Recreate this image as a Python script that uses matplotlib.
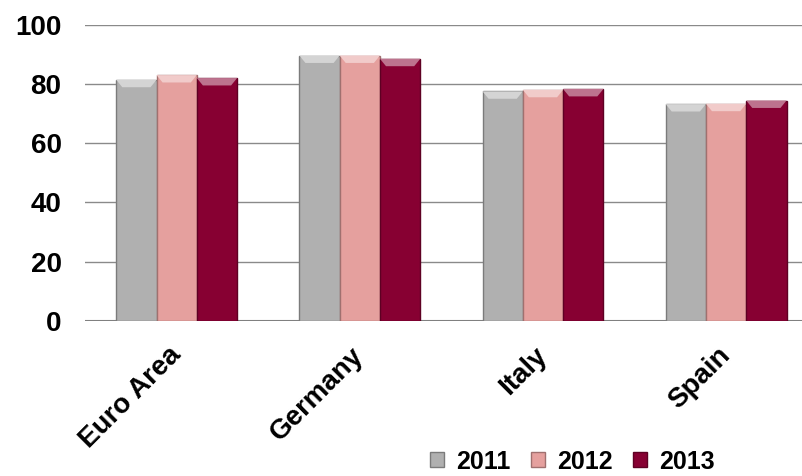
import matplotlib.pyplot as plt
import matplotlib.colors as mcolors
from matplotlib.patches import Polygon
import numpy as np

plt.rcParams['font.family'] = ['Liberation Sans', 'DejaVu Sans']

# countries and yearly values
countries = ['Euro Area', 'Germany', 'Italy', 'Spain']
years = ['2011', '2012', '2013']
vals_2011 = [81.4, 89.6, 77.5, 73.2]
vals_2012 = [83.0, 89.6, 78.0, 73.3]
vals_2013 = [82.0, 88.5, 78.3, 74.4]
colours = ['#b0b0b0', '#e5a09e', '#870032']

series = [vals_2011, vals_2012, vals_2013]

fig = plt.figure(figsize=(8.03, 4.76), dpi=100)
ax = fig.add_axes([0.106, 0.326, 0.894, 0.622])

x = np.arange(len(countries))
w = 0.22


def lighter(c, amt):
    r, g, b = mcolors.to_rgb(c)
    return (r + (1 - r) * amt, g + (1 - g) * amt, b + (1 - b) * amt)


def darker(c, amt):
    r, g, b = mcolors.to_rgb(c)
    return (r * (1 - amt), g * (1 - amt), b * (1 - amt))


for i in range(3):
    bars = ax.bar(x + (i - 1) * w, series[i], width=w, color=colours[i],
                  edgecolor=darker(colours[i], 0.3), linewidth=1.0,
                  label=years[i], zorder=3)
    # bevel on the top of each bar
    for b in bars:
        x0 = b.get_x()
        x1 = x0 + b.get_width()
        top = b.get_height()
        d = b.get_width() * 0.15
        h = 2.5
        poly = Polygon([(x0, top), (x1, top), (x1 - d, top - h), (x0 + d, top - h)],
                       closed=True, facecolor=lighter(colours[i], 0.45),
                       edgecolor='none', zorder=4)
        ax.add_patch(poly)

ax.set_ylim(0, 100)
ax.set_xlim(-0.5, 3.42)
ax.set_yticks([0, 20, 40, 60, 80, 100])
ax.yaxis.grid(True, color='#8a8a8a', linewidth=1.0, zorder=0)
ax.axhline(0, color='#808080', linewidth=1.5, zorder=2)
for s in ax.spines.values():
    s.set_visible(False)
ax.tick_params(axis='y', length=0, pad=17, labelsize=20)
ax.tick_params(axis='x', length=0, pad=22, labelsize=20)
for t in ax.get_yticklabels():
    t.set_fontweight('bold')
ax.set_xticks(x)
ax.set_xticklabels(countries, rotation=45, ha='right', va='center',
                   rotation_mode='anchor', fontweight='bold')

leg = fig.legend(loc='center right', bbox_to_anchor=(0.918, 0.03), ncol=3,
                 frameon=False, prop={'weight': 'bold', 'size': 18},
                 handlelength=0.55, handleheight=0.55, handletextpad=0.5,
                 columnspacing=0.8)

fig.savefig('out.png', dpi=100)
